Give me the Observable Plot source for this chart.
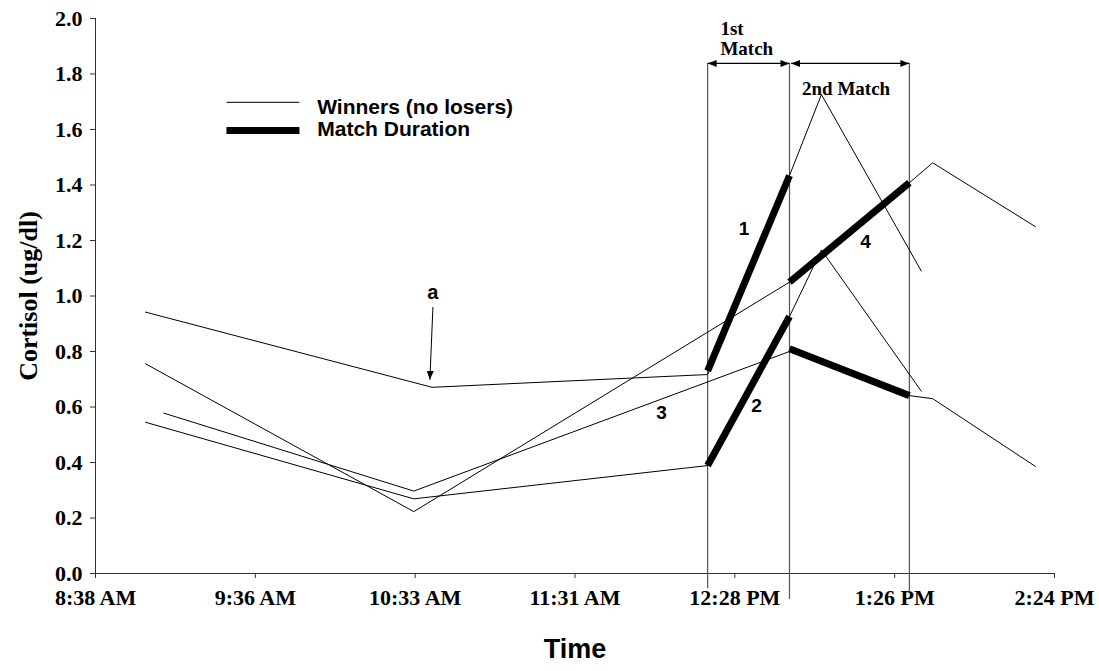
<!DOCTYPE html>
<html>
<head>
<meta charset="utf-8">
<script src="https://cdn.jsdelivr.net/npm/d3@7"></script>
<script src="https://cdn.jsdelivr.net/npm/@observablehq/plot@0.6"></script>
<style>
  html, body { margin: 0; padding: 0; background: #fff; }
</style>
</head>
<body>
<div id="chart"></div>
<script>
// x positions are minutes since midnight
const xTicks = [518.4, 576, 633.6, 691.2, 748.8, 806.4, 864];
const xTickLabels = ["8:38 AM", "9:36 AM", "10:33 AM", "11:31 AM", "12:28 PM", "1:26 PM", "2:24 PM"];
const yTicks = [0, 0.2, 0.4, 0.6, 0.8, 1.0, 1.2, 1.4, 1.6, 1.8, 2.0];

// Winners (thin lines)
const timesA = [536.4, 639.7, 739.0, 768.5, 780.0, 816.0];
const valuesA = [0.942, 0.671, 0.717, 1.434, 1.726, 1.09];
const timesB = [536.4, 633.1, 768.5, 811.7, 820.1, 857.1];
const valuesB = [0.756, 0.223, 1.05, 1.408, 1.48, 1.25];
const timesC = [543.0, 633.1, 768.5, 811.7, 820.1, 857.1];
const valuesC = [0.578, 0.297, 0.80, 0.641, 0.63, 0.386];
const timesD = [536.4, 633.1, 739.0, 768.5, 780.0, 816.0];
const valuesD = [0.545, 0.269, 0.389, 0.926, 1.166, 0.657];

// Match duration (thick segments)
const durStartT = [739.0, 739.0, 768.5, 768.5];
const durEndT = [768.5, 768.5, 811.7, 811.7];
const durStartV = [0.73, 0.389, 1.05, 0.81];
const durEndV = [1.434, 0.926, 1.408, 0.641];

// Match boundaries
const matchBounds = [739.0, 768.5, 811.7];
const matchLabels = ["1st", "Match", "2nd Match"];
const segLabels = ["1", "2", "3", "4"];

const seriesList = [
  {id: "A", t: timesA, v: valuesA},
  {id: "B", t: timesB, v: valuesB},
  {id: "C", t: timesC, v: valuesC},
  {id: "D", t: timesD, v: valuesD}
];
const rows = seriesList.flatMap(s => s.t.map((t, i) => ({id: s.id, t, v: s.v[i]})));
const durIdx = durStartT.map((_, i) => i);

const serif = "'Liberation Serif', 'Times New Roman', serif";
const sans = "'Liberation Sans', Arial, sans-serif";

const plot = Plot.plot({
  width: 1099,
  height: 671,
  marginLeft: 95,
  marginRight: 45,
  marginTop: 18,
  marginBottom: 98,
  style: {fontFamily: serif, fontSize: "22px", fontWeight: "bold", color: "#000", background: "#fff"},
  x: {domain: [518.4, 864]},
  y: {domain: [0, 2]},
  marks: [
    Plot.axisY(yTicks, {tickFormat: d3.format(".1f"), tickSize: 5, tickPadding: 8, label: null, stroke: "#333"}),
    Plot.axisX(xTicks, {tickFormat: d => xTickLabels[xTicks.indexOf(d)], tickSize: 5, tickPadding: 11, label: null, stroke: "#333"}),
    Plot.ruleY([0], {stroke: "#333"}),
    Plot.ruleX([518.4], {stroke: "#333"}),
    // match boundary verticals
    Plot.ruleX(matchBounds, {y1: 1.838, y2: [-0.055, -0.094, -0.068], stroke: "#555", strokeWidth: 1.2}),
    // match arrows
    Plot.link([0, 1], {
      x1: i => matchBounds[i] + (i === 1 ? 0.6 : 0),
      x2: i => matchBounds[i + 1],
      y1: 1.838, y2: 1.838,
      stroke: "#000", strokeWidth: 1.2,
      markerStart: "arrow", markerEnd: "arrow"
    }),
    Plot.text([matchLabels[0]], {x: 743.6, y: 1.963, text: d => d, textAnchor: "start", lineAnchor: "middle", fontFamily: serif, fontSize: 19, fontWeight: "bold"}),
    Plot.text([matchLabels[1]], {x: 743.6, y: 1.889, text: d => d, textAnchor: "start", lineAnchor: "middle", fontFamily: serif, fontSize: 19, fontWeight: "bold"}),
    Plot.text([matchLabels[2]], {x: 788.9, y: 1.745, text: d => d, textAnchor: "middle", lineAnchor: "middle", fontFamily: serif, fontSize: 19, fontWeight: "bold"}),
    // thin winner lines
    Plot.line(rows, {x: "t", y: "v", z: "id", stroke: "#000", strokeWidth: 1}),
    // thick match-duration segments
    Plot.link(durIdx, {
      x1: i => durStartT[i], y1: i => durStartV[i],
      x2: i => durEndT[i], y2: i => durEndV[i],
      stroke: "#000", strokeWidth: 7, strokeLinecap: "butt"
    }),
    // segment labels
    Plot.text(segLabels, {
      x: [752.1, 756.6, 722.4, 795.9],
      y: [1.243, 0.605, 0.577, 1.196],
      text: d => d, textAnchor: "middle", lineAnchor: "middle",
      fontFamily: sans, fontSize: 19, fontWeight: "bold"
    }),
    // annotation "a" with arrow
    Plot.text(["a"], {x: 640.0, y: 1.012, text: d => d, textAnchor: "middle", lineAnchor: "middle", fontFamily: sans, fontSize: 20, fontWeight: "bold"}),
    Plot.link([0], {x1: 640.0, y1: 0.96, x2: 638.9, y2: 0.698, stroke: "#000", strokeWidth: 1, markerEnd: "arrow"}),
    // legend
    Plot.link([0], {x1: 565.6, x2: 591.9, y1: 1.698, y2: 1.698, stroke: "#000", strokeWidth: 1}),
    Plot.link([0], {x1: 565.6, x2: 591.9, y1: 1.596, y2: 1.596, stroke: "#000", strokeWidth: 7, strokeLinecap: "butt"}),
    Plot.text(["Winners (no losers)"], {x: 598.3, y: 1.681, text: d => d, textAnchor: "start", lineAnchor: "middle", fontFamily: sans, fontSize: 21, fontWeight: "bold"}),
    Plot.text(["Match Duration"], {x: 598.3, y: 1.600, text: d => d, textAnchor: "start", lineAnchor: "middle", fontFamily: sans, fontSize: 21, fontWeight: "bold"}),
    // axis titles
    Plot.text(["Cortisol (ug/dl)"], {frameAnchor: "left", dx: -67, rotate: -90, text: d => d, textAnchor: "middle", lineAnchor: "middle", fontFamily: serif, fontSize: 26, fontWeight: "bold"}),
    Plot.text(["Time"], {frameAnchor: "bottom", dy: 76, text: d => d, textAnchor: "middle", lineAnchor: "middle", fontFamily: sans, fontSize: 27, fontWeight: "bold"})
  ]
});

// filled triangular arrowheads
plot.querySelectorAll("marker").forEach(m => {
  m.setAttribute("viewBox", "-9 -4 9 8");
  m.setAttribute("markerWidth", "9");
  m.setAttribute("markerHeight", "8");
  m.setAttribute("markerUnits", "userSpaceOnUse");
  m.setAttribute("orient", "auto-start-reverse");
  m.setAttribute("fill", "#000");
  m.setAttribute("stroke", "none");
  m.innerHTML = "";
  const p = document.createElementNS("http://www.w3.org/2000/svg", "path");
  p.setAttribute("d", "M-9,-3.5L0,0L-9,3.5Z");
  m.appendChild(p);
});

document.getElementById("chart").appendChild(plot);
</script>
</body>
</html>
